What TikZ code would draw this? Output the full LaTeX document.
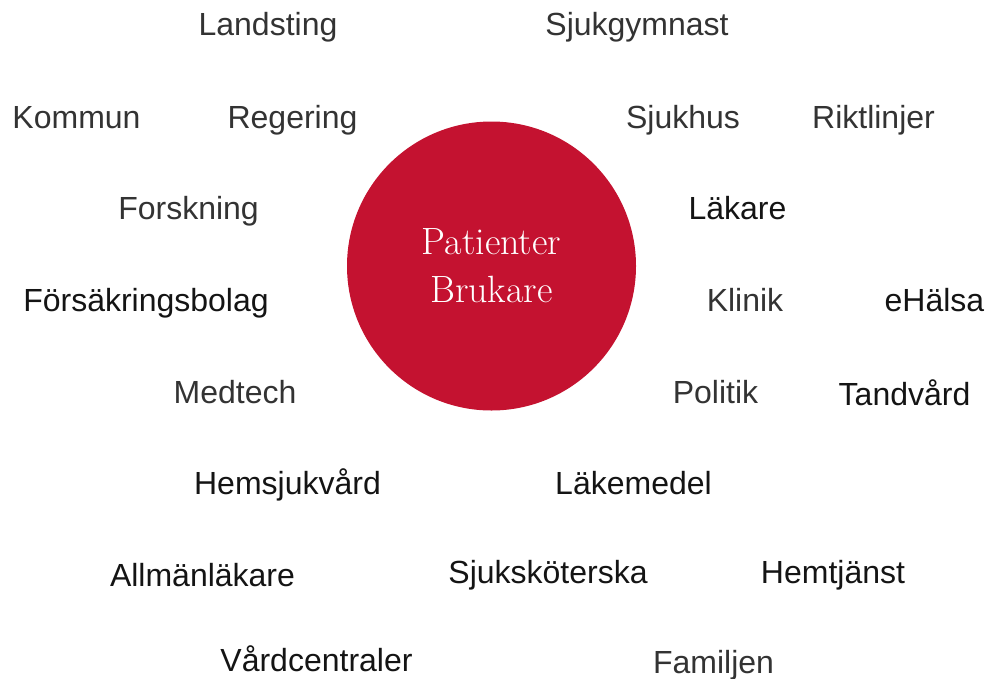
\documentclass[tikz,border=0pt]{standalone}
\usepackage{fontspec}
\setsansfont{Liberation Sans}
\usepackage{tikz}
\usetikzlibrary{positioning}

\definecolor{patred}{RGB}{196,18,48}
\definecolor{darkgrey}{RGB}{51,51,51}
\definecolor{nearblack}{RGB}{20,20,20}

\tikzset{
  ord/.style={anchor=base, inner sep=0pt, text=darkgrey,
    font=\sffamily\fontsize{32}{38}\selectfont},
  ordsvart/.style={ord, text=nearblack},
  patient/.style={circle, fill=patred, minimum size=289pt, inner sep=0pt,
    text=white, align=center, font=\rmfamily\fontsize{38}{48}\selectfont}
}

\begin{document}
\begin{tikzpicture}[x=1pt,y=-1pt]
\useasboundingbox (0,0) rectangle (985,678);

\node[patient] (pat) at (491.5,266) {Patienter\\Brukare};

% grey words
\foreach \x/\y/\n/\t in {268/35/landsting/Landsting, 637/35/sjukgymnast/Sjukgymnast,
  76.5/128/kommun/Kommun, 292.5/128/regering/Regering, 683/128/sjukhus/Sjukhus,
  873.5/128/riktlinjer/Riktlinjer, 188.5/219/forskning/Forskning,
  745/311/klinik/Klinik, 235/403/medtech/Medtech, 715.5/403/politik/Politik,
  713.5/673/familjen/Familjen}
  \node[ord] (\n) at (\x,\y) {\t};

% black words
\foreach \x/\y/\n/\t in {737.5/219/lakare/Läkare, 146/311/forsakring/Försäkringsbolag,
  934.5/311/ehalsa/eHälsa, 904.5/405/tandvard/Tandvård,
  287.5/494/hemsjukvard/Hemsjukvård, 633.5/494/lakemedel/Läkemedel,
  202.5/586/allman/Allmänläkare, 548/583/sjukskoterska/Sjuksköterska,
  833/583/hemtjanst/Hemtjänst, 316.5/671/vardcentraler/Vårdcentraler}
  \node[ordsvart] (\n) at (\x,\y) {\t};
\end{tikzpicture}
\end{document}
